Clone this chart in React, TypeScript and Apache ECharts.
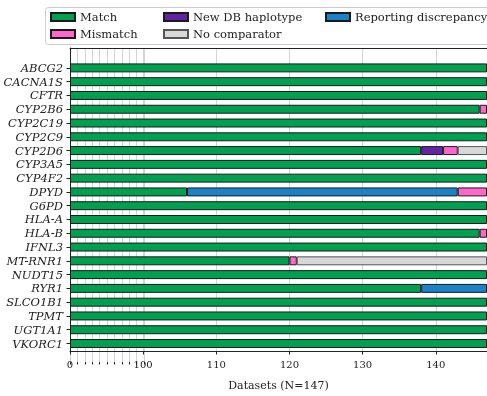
import React, { useEffect, useRef } from "react";
import * as echarts from "echarts";

const genes = [
  "ABCG2", "CACNA1S", "CFTR", "CYP2B6", "CYP2C19", "CYP2C9", "CYP2D6", "CYP3A5",
  "CYP4F2", "DPYD", "G6PD", "HLA-A", "HLA-B", "IFNL3", "MT-RNR1", "NUDT15",
  "RYR1", "SLCO1B1", "TPMT", "UGT1A1", "VKORC1",
];
const matchCounts = [147, 147, 147, 146, 147, 147, 138, 147, 147, 106, 147, 147, 146, 147, 120, 147, 138, 147, 147, 147, 147];
const newDbCounts = [0, 0, 0, 0, 0, 0, 3, 0, 0, 0, 0, 0, 0, 0, 0, 0, 0, 0, 0, 0, 0];
const reportingCounts = [0, 0, 0, 0, 0, 0, 0, 0, 0, 37, 0, 0, 0, 0, 0, 0, 9, 0, 0, 0, 0];
const mismatchCounts = [0, 0, 0, 1, 0, 0, 2, 0, 0, 4, 0, 0, 1, 0, 1, 0, 0, 0, 0, 0, 0];
const noComparatorCounts = [0, 0, 0, 0, 0, 0, 4, 0, 0, 0, 0, 0, 0, 0, 26, 0, 0, 0, 0, 0, 0];
const xTickValues = [0, 100, 110, 120, 130, 140];
const totalDatasets = 147;

// Broken axis: 0-100 compressed 10x, above 100 linear
const BREAK = 100;
const SQUEEZE = 10;
const T = (v: number) => (v <= BREAK ? v / SQUEEZE : BREAK / SQUEEZE + (v - BREAK));
const Tinv = (t: number) => (t <= BREAK / SQUEEZE ? t * SQUEEZE : BREAK + (t - BREAK / SQUEEZE));

const FONT = "DejaVu Serif";

export default function App() {
  const ref = useRef<HTMLDivElement>(null);
  useEffect(() => {
    if (!ref.current) return;
    const chart = echarts.init(ref.current, undefined, { renderer: "svg" });

    const seriesDefs = [
      { name: "Match", data: matchCounts, color: "#00A050", border: "#1a1a1a" },
      { name: "New DB haplotype", data: newDbCounts, color: "#6324A3", border: "#1a1a1a" },
      { name: "Reporting discrepancy", data: reportingCounts, color: "#1A82C8", border: "#1a1a1a" },
      { name: "Mismatch", data: mismatchCounts, color: "#FF66CC", border: "#1a1a1a" },
      { name: "No comparator", data: noComparatorCounts, color: "#D8D8D8", border: "#555555" },
    ];
    const cum = genes.map(() => 0);
    const barSeries = seriesDefs.map((s) => {
      const d = s.data.map((v, i) => {
        const start = cum[i];
        const end = start + v;
        cum[i] = end;
        return v > 0 ? T(end) - T(start) : null;
      });
      return {
        type: "bar",
        name: s.name,
        stack: "total",
        xAxisIndex: 1,
        yAxisIndex: 1,
        barWidth: "65%",
        z: 5,
        itemStyle: { color: s.color, borderColor: s.border, borderWidth: 1 },
        data: d,
      };
    });

    const tMax = T(totalDatasets);
    const gridLeft = 70;
    const plotWidth = 422;
    const pxPerUnit = plotWidth / tMax;

    const legendBase = {
      orient: "vertical",
      icon: "rect",
      itemWidth: 24,
      itemHeight: 8,
      itemGap: 5,
      padding: 0,
      textStyle: { fontFamily: FONT, fontSize: 11.5, color: "#222" },
    };

    chart.setOption({
      animation: false,
      textStyle: { fontFamily: FONT },
      graphic: [
        {
          type: "rect",
          z: 0,
          shape: { x: 45.5, y: 7.5, width: 470, height: 37, r: 3 },
          style: { fill: "#ffffff", stroke: "#cccccc", lineWidth: 1 },
        },
      ],
      legend: [
        { ...legendBase, data: ["Match", "Mismatch"], left: 50, top: 11, z: 10 },
        { ...legendBase, data: ["New DB haplotype", "No comparator"], left: 163, top: 11, z: 10 },
        { ...legendBase, data: ["Reporting discrepancy"], left: 325, top: 11, z: 10 },
      ],
      grid: [
        { left: gridLeft, right: 487 - gridLeft - plotWidth, top: 48, bottom: 34 },
        { left: gridLeft, right: 487 - gridLeft - plotWidth, top: 61, bottom: 45.6 },
        { left: gridLeft, width: pxPerUnit * T(BREAK), top: 48, bottom: 34 },
      ],
      xAxis: [
        {
          gridIndex: 0,
          type: "value",
          min: 0,
          max: tMax,
          interval: 10,
          name: "Datasets (N=" + totalDatasets + ")",
          nameLocation: "middle",
          nameGap: 29,
          nameTextStyle: { fontFamily: FONT, fontSize: 11, color: "#222" },
          axisLine: { show: true, lineStyle: { color: "#222", width: 1 } },
          axisTick: { show: true, inside: false, length: 3.5, lineStyle: { color: "#222" } },
          axisLabel: {
            fontFamily: FONT,
            fontSize: 10,
            color: "#222",
            margin: 8,
            showMaxLabel: false,
            formatter: (t: number) => {
              const raw = Math.round(Tinv(t));
              return xTickValues.includes(raw) ? String(raw) : "";
            },
          },
          splitLine: { show: true, lineStyle: { color: "#d4d4d4", width: 1 } },
        },
        {
          gridIndex: 1,
          type: "value",
          min: 0,
          max: tMax,
          show: false,
        },
        {
          gridIndex: 2,
          type: "value",
          min: 0,
          max: T(BREAK),
          interval: 1,
          axisLine: { show: false },
          axisTick: { show: true, length: 2.5, lineStyle: { color: "#222" } },
          axisLabel: { show: false },
          splitLine: { show: true, lineStyle: { color: "#d4d4d4", width: 1 } },
        },
        {
          gridIndex: 0,
          type: "value",
          position: "top",
          min: 0,
          max: tMax,
          axisLine: { show: true, lineStyle: { color: "#222", width: 1 } },
          axisTick: { show: false },
          axisLabel: { show: false },
          splitLine: { show: false },
        },
      ],
      yAxis: [
        {
          gridIndex: 0,
          type: "value",
          min: 0,
          max: 1,
          axisLine: { show: true, lineStyle: { color: "#222", width: 1 } },
          axisTick: { show: false },
          axisLabel: { show: false },
          splitLine: { show: false },
        },
        {
          gridIndex: 1,
          type: "category",
          inverse: true,
          data: genes,
          axisLine: { show: false },
          axisTick: { show: true, alignWithLabel: true, interval: 0, length: 3.5, lineStyle: { color: "#222" } },
          axisLabel: {
            interval: 0,
            fontFamily: FONT,
            fontStyle: "italic",
            fontSize: 11.5,
            color: "#222",
            margin: 7,
          },
          splitLine: { show: false },
        },
        {
          gridIndex: 2,
          type: "value",
          min: 0,
          max: 1,
          show: false,
        },
      ],
      series: barSeries,
    });

    return () => chart.dispose();
  }, []);

  return (
    <div
      ref={ref}
      style={{ position: "fixed", left: 0, top: 0, width: 487, height: 396 }}
    />
  );
}
